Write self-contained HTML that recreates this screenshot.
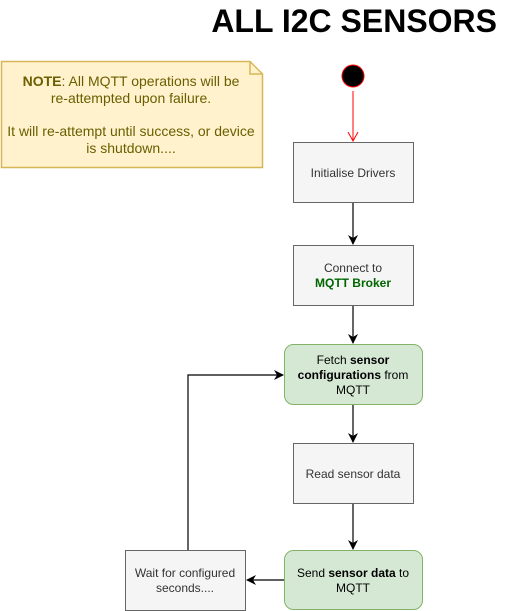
<!DOCTYPE html>
<html><head><style>
body{margin:0;background:#fff;}
svg{display:block;font-family:"Liberation Sans",Arial,sans-serif;}
</style></head><body>
<svg width="518" height="611" viewBox="0 0 518 611" xmlns="http://www.w3.org/2000/svg">
<defs>
<marker id="a" markerWidth="10" markerHeight="10" refX="9" refY="5" orient="auto" markerUnits="userSpaceOnUse"><path d="M0,0 L10,5 L0,10 L3,5 Z" fill="#000"/></marker>
</defs>
<text x="497" y="32" text-anchor="end" font-size="32" font-weight="bold" fill="#000">ALL I2C SENSORS</text>
<path d="M1.5,11.5 H250 L262.5,24 V117.5 H1.5 Z" transform="translate(0,50)" fill="#fff2cc" stroke="#d6b656" stroke-width="1.5"/>
<path d="M250,61.5 V74 H262.5" fill="none" stroke="#d6b656" stroke-width="1.5"/>
<g font-size="14" fill="#6b5e00" text-anchor="middle">
<text x="131" y="86"><tspan font-weight="bold">NOTE</tspan>: All MQTT operations will be</text>
<text x="131" y="103">re-attempted upon failure.</text>
<text x="131" y="136">It will re-attempt until success, or device</text>
<text x="131" y="153">is shutdown....</text>
</g>
<circle cx="353" cy="76" r="11" fill="#000" stroke="#ff0000" stroke-width="1"/>
<line x1="353" y1="91" x2="353" y2="141" stroke="#ff0000"/>
<path d="M348,132 L353,141 L358,132" fill="none" stroke="#ff0000"/>
<g stroke="#666" fill="#f5f5f5">
<rect x="293.5" y="142.5" width="120" height="60"/>
<rect x="293.5" y="245.5" width="120" height="60"/>
<rect x="293.5" y="443.5" width="120" height="60"/>
<rect x="125.5" y="550.5" width="120" height="60"/>
</g>
<g stroke="#82b366" fill="#d5e8d4">
<rect x="284.5" y="344.5" width="138" height="60" rx="9"/>
<rect x="284.5" y="550.5" width="138" height="59" rx="9"/>
</g>
<g stroke="#000" stroke-width="1.2" fill="none" marker-end="url(#a)">
<line x1="353" y1="203" x2="353" y2="244"/>
<line x1="353" y1="306" x2="353" y2="343"/>
<line x1="353" y1="405" x2="353" y2="442"/>
<line x1="353" y1="504" x2="353" y2="549"/>
<line x1="284" y1="580" x2="247" y2="580"/>
<polyline points="188,550 188,375 283,375"/>
</g>
<g font-size="12" fill="#333" text-anchor="middle">
<text x="353" y="177">Initialise Drivers</text>
<text x="353" y="272">Connect to</text>
<text x="353" y="287" font-weight="bold" fill="#006600">MQTT Broker</text>
<text x="353" y="478">Read sensor data</text>
<text x="185" y="577">Wait for configured</text>
<text x="185" y="592">seconds....</text>
</g>
<g font-size="12" fill="#000" text-anchor="middle">
<text x="353" y="364">Fetch <tspan font-weight="bold">sensor</tspan></text>
<text x="353" y="379"><tspan font-weight="bold">configurations</tspan> from</text>
<text x="353" y="394">MQTT</text>
<text x="353" y="577">Send <tspan font-weight="bold">sensor data</tspan> to</text>
<text x="353" y="592">MQTT</text>
</g>
</svg>
</body></html>
